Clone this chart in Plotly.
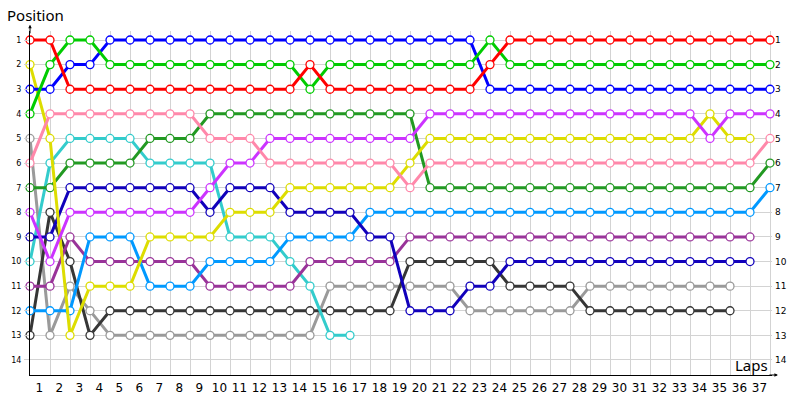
"""Lap chart: running position of each car after every lap."""

import plotly.graph_objects as go

LAPS = list(range(0, 38))
POSITIONS = list(range(1, 15))
LAP_LABELS = [str(lap) for lap in range(1, 38)]

# position per lap (lap 0 = grid), None once the car is out
RED = [1, 1, 3, 3, 3, 3, 3, 3, 3, 3, 3, 3, 3, 3, 2, 3, 3, 3, 3, 3, 3, 3, 3, 2,
       1, 1, 1, 1, 1, 1, 1, 1, 1, 1, 1, 1, 1, 1]
GREEN = [4, 2, 1, 1, 2, 2, 2, 2, 2, 2, 2, 2, 2, 2, 3, 2, 2, 2, 2, 2, 2, 2, 2, 1,
         2, 2, 2, 2, 2, 2, 2, 2, 2, 2, 2, 2, 2, 2]
BLUE = [3, 3, 2, 2, 1, 1, 1, 1, 1, 1, 1, 1, 1, 1, 1, 1, 1, 1, 1, 1, 1, 1, 1, 3,
        3, 3, 3, 3, 3, 3, 3, 3, 3, 3, 3, 3, 3, 3]
PINK = [6, 4, 4, 4, 4, 4, 4, 4, 4, 5, 5, 5, 6, 6, 6, 6, 6, 6, 6, 7, 6, 6, 6, 6,
        6, 6, 6, 6, 6, 6, 6, 6, 6, 6, 6, 6, 6, 5]
MAGENTA = [8, 10, 8, 8, 8, 8, 8, 8, 8, 7, 6, 6, 5, 5, 5, 5, 5, 5, 5, 5, 4, 4, 4, 4,
           4, 4, 4, 4, 4, 4, 4, 4, 4, 4, 5, 4, 4, 4]
YELLOW = [2, 5, 13, 11, 11, 11, 9, 9, 9, 9, 8, 8, 8, 7, 7, 7, 7, 7, 7, 6, 5, 5, 5, 5,
          5, 5, 5, 5, 5, 5, 5, 5, 5, 5, 4, 5, 5, None]
DARK_GREEN = [7, 7, 6, 6, 6, 6, 5, 5, 5, 4, 4, 4, 4, 4, 4, 4, 4, 4, 4, 4, 7, 7, 7, 7,
              7, 7, 7, 7, 7, 7, 7, 7, 7, 7, 7, 7, 7, 6]
CYAN = [10, 6, 5, 5, 5, 5, 6, 6, 6, 6, 9, 9, 9, 10, 11, 13, 13, None, None, None,
        None, None, None, None, None, None, None, None, None, None, None, None,
        None, None, None, None, None, None]
NAVY = [9, 9, 7, 7, 7, 7, 7, 7, 7, 8, 7, 7, 7, 8, 8, 8, 8, 9, 9, 12, 12, 12, 11, 11,
        10, 10, 10, 10, 10, 10, 10, 10, 10, 10, 10, 10, 10, None]
LIGHT_BLUE = [12, 12, 12, 9, 9, 9, 11, 11, 11, 10, 10, 10, 10, 9, 9, 9, 9, 8, 8, 8,
              8, 8, 8, 8, 8, 8, 8, 8, 8, 8, 8, 8, 8, 8, 8, 8, 8, 7]
PURPLE = [11, 11, 9, 10, 10, 10, 10, 10, 10, 11, 11, 11, 11, 11, 10, 10, 10, 10, 10,
          9, 9, 9, 9, 9, 9, 9, 9, 9, 9, 9, 9, 9, 9, 9, 9, 9, 9, None]
DARK_GRAY = [13, 8, 10, 13, 12, 12, 12, 12, 12, 12, 12, 12, 12, 12, 12, 12, 12, 12,
             12, 10, 10, 10, 10, 10, 11, 11, 11, 11, 12, 12, 12, 12, 12, 12, 12, 12,
             None, None]
LIGHT_GRAY = [5, 13, 11, 12, 13, 13, 13, 13, 13, 13, 13, 13, 13, 13, 13, 11, 11, 11,
              11, 11, 11, 11, 12, 12, 12, 12, 12, 12, 11, 11, 11, 11, 11, 11, 11, 11,
              None, None]

CARS = [
    ('Light gray', LIGHT_GRAY, '#9A9A9A'),
    ('Dark gray', DARK_GRAY, '#363636'),
    ('Cyan', CYAN, '#33CCCC'),
    ('Purple', PURPLE, '#993399'),
    ('Light blue', LIGHT_BLUE, '#0099FF'),
    ('Navy', NAVY, '#1100BB'),
    ('Dark green', DARK_GREEN, '#229922'),
    ('Yellow', YELLOW, '#DDDD00'),
    ('Magenta', MAGENTA, '#CC33FF'),
    ('Pink', PINK, '#FF88AA'),
    ('Blue', BLUE, '#0000FF'),
    ('Green', GREEN, '#00CC00'),
    ('Red', RED, '#FF0000'),
]

GRID = '#D3D3D3'
FONT = 'DejaVu Sans'
Y_RANGE = [14.61, 0.634]
PLOT_W = 742  # 800 - l - r, used to place the titles in paper units

fig = go.Figure()
for name, positions, color in CARS:
    fig.add_trace(go.Scatter(
        x=LAPS, y=positions, name=name, mode='lines+markers',
        line=dict(color=color, width=3),
        marker=dict(size=8, color='white', line=dict(color=color, width=1.3)),
        cliponaxis=False,
        hovertemplate=f'<b>{name}</b><br>Lap %{{x}}<br>Position %{{y}}<extra></extra>',
    ))

# invisible companion trace so the right-hand position axis gets drawn
fig.add_trace(go.Scatter(
    x=[None], y=[None], yaxis='y2', mode='markers', showlegend=False, hoverinfo='skip',
))

fig.update_layout(
    width=800, height=400,
    margin=dict(l=30, r=28, t=31, b=25, autoexpand=False),
    plot_bgcolor='white', paper_bgcolor='white',
    showlegend=False,
    hovermode='closest',
    font=dict(family=FONT, color='black'),
    annotations=[
        dict(text='Position', xref='paper', yref='paper', x=-25 / PLOT_W, y=1.046,
             xanchor='left', yanchor='middle', showarrow=False,
             font=dict(family='Noto Sans', size=15)),
        dict(text='Laps', xref='paper', yref='paper', x=0.997, y=0.03,
             xanchor='right', yanchor='middle', showarrow=False,
             font=dict(family='Noto Sans', size=15)),
        # arrow heads at the ends of both axes
        dict(xref='paper', yref='paper', x=0, y=1.018, ax=0, ay=10, text='',
             showarrow=True, arrowhead=2, arrowsize=0.7, arrowwidth=1, arrowcolor='black'),
        dict(xref='paper', yref='paper', x=1.008, y=0, ax=-10, ay=0, text='',
             showarrow=True, arrowhead=2, arrowsize=0.7, arrowwidth=1, arrowcolor='black'),
    ],
)

fig.update_xaxes(
    range=[0, 37.1],
    tickmode='array',
    tickvals=[lap - 0.53 for lap in range(1, 38)],
    ticktext=LAP_LABELS,
    ticks='',
    ticklabelstandoff=2,
    showgrid=False,
    showline=True, linecolor='black', linewidth=1,
    tickfont=dict(size=12),
    minor=dict(tickmode='linear', tick0=0, dtick=1, showgrid=True,
               gridcolor=GRID, gridwidth=1),
    zeroline=False,
    automargin=False,
    fixedrange=True,
)

fig.update_yaxes(
    range=Y_RANGE,
    tickmode='array',
    tickvals=POSITIONS,
    ticktext=[str(p) for p in POSITIONS],
    ticks='outside', ticklen=5, tickcolor=GRID,
    ticklabelstandoff=1,
    showgrid=True, gridcolor=GRID, gridwidth=1,
    showline=True, linecolor='black', linewidth=1,
    tickfont=dict(size=8),
    zeroline=False,
    automargin=False,
    fixedrange=True,
)

fig.update_layout(yaxis2=dict(
    overlaying='y', side='right', range=Y_RANGE,
    tickmode='array', tickvals=POSITIONS, ticktext=[str(p) for p in POSITIONS],
    showgrid=False, showline=False, zeroline=False, ticks='',
    ticklabelstandoff=2,
    tickfont=dict(size=9, family=FONT),
    automargin=False,
    fixedrange=True,
))

# drop the page's default 8px body margin so the chart sits at the window corner
fig.write_html(
    'out.html',
    config={'displayModeBar': False},
    post_script="document.body.style.margin='0';",
)
